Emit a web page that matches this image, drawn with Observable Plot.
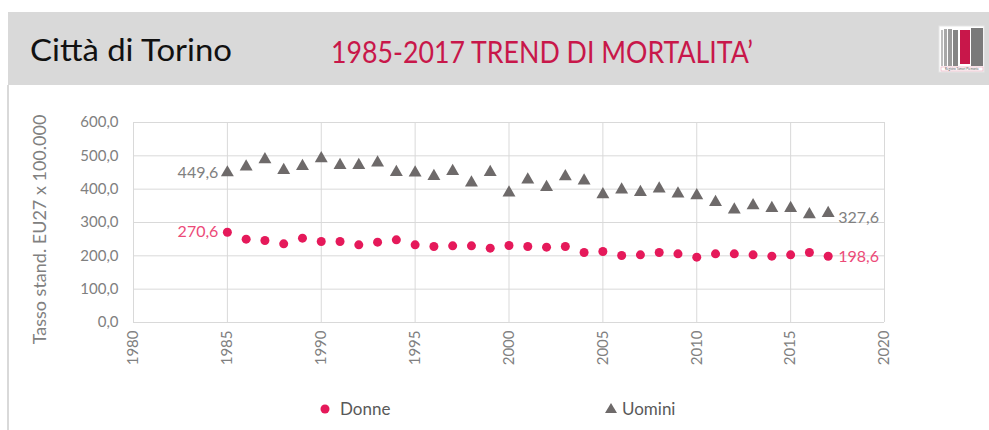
<!DOCTYPE html>
<html><head><meta charset="utf-8">
<script src="https://cdn.jsdelivr.net/npm/d3@7"></script>
<script src="https://cdn.jsdelivr.net/npm/@observablehq/plot@0.6"></script>
<style>
html,body{margin:0;padding:0;background:#fff;}
body{width:989px;height:430px;overflow:hidden;position:relative;font-family:Lato,"Open Sans",sans-serif;}
#header{position:absolute;left:0;top:0;}
#leftline{position:absolute;left:7px;top:85px;width:2px;height:345px;background:#d9d9d9;}
#chart{position:absolute;left:0;top:100px;}
#legend{position:absolute;left:0;top:392px;}
</style>
</head><body>
<svg id="header" width="989" height="90">
  <rect x="8" y="12" width="981" height="73" fill="#d9d9d9"/>
  <text x="30" y="61" font-family="Lato" font-size="30" fill="#111" textLength="202" lengthAdjust="spacingAndGlyphs">Città di Torino</text>
  <text x="331" y="63" font-family="Lato" font-size="30" fill="#c8174a" textLength="422" lengthAdjust="spacingAndGlyphs">1985-2017 TREND DI MORTALITA’</text>
  <g>
    <rect x="939" y="26" width="45" height="46" fill="#fff" stroke="#e6e6e6"/>
    <rect x="941" y="30" width="2" height="36" fill="#bdbdbd"/>
    <rect x="944" y="29" width="3" height="37" fill="#a8a8a8"/>
    <rect x="948" y="29" width="4" height="37" fill="#9a9a9a"/>
    <rect x="953" y="30" width="5" height="36" fill="#858585"/>
    <rect x="960" y="30" width="10" height="34" fill="#c8174a"/>
    <rect x="971" y="28" width="12" height="38" fill="#7a7a7a"/>
    <rect x="941" y="67" width="42" height="4" fill="#fff" stroke="#e8a0b4" stroke-width="0.6"/>
    <text x="962" y="70.3" font-size="3" text-anchor="middle" fill="#555" font-family="Lato">Registro Tumori Piemonte</text>
  </g>
</svg>
<div id="leftline"></div>
<div id="chart"></div>
<svg id="legend" width="989" height="38">
  <circle cx="325" cy="17" r="4.5" fill="#e5195a"/>
  <text x="340" y="23" font-family="Lato" font-size="17" fill="#595959">Donne</text>
  <path d="M611,11 L617,21 L605,21 Z" fill="#6e6a6a"/>
  <text x="622" y="23" font-family="Lato" font-size="17" fill="#595959">Uomini</text>
</svg>
<script>
const years = [1985,1986,1987,1988,1989,1990,1991,1992,1993,1994,1995,1996,1997,1998,1999,2000,2001,2002,2003,2004,2005,2006,2007,2008,2009,2010,2011,2012,2013,2014,2015,2016,2017];
const donne = [270.6,250,246,236,253,243,243,233,241,248,233,228,230,230,223,231,228,226,228,210,213,201,203,210,206,196,206,206,203,199,203,210,198.6];
const uomini = [449.6,467,489,457,469,492,472,472,479,451,449,439,454,419,451,389,428,406,438,425,384,398,391,401,386,381,361,338,351,343,343,324,327.6];
const xTicks = [1980,1985,1990,1995,2000,2005,2010,2015,2020];
const yTicks = [0,100,200,300,400,500,600];
const yLabel = "Tasso stand. EU27 x 100.000";

const data = years.map((y,i)=>({year:y, donne:donne[i], uomini:uomini[i]}));
const first = [data[0]], last = [data[data.length-1]];
const fmt = d => d.toFixed(1).replace(".", ",");
const tickColor = "#808080";

const chart = Plot.plot({
  width: 989, height: 290,
  marginLeft: 133, marginRight: 105, marginTop: 22, marginBottom: 68,
  style: {fontFamily: "Lato, 'Open Sans', sans-serif", fontSize: "14px", background: "transparent"},
  x: {domain: [1980, 2020]},
  y: {domain: [0, 600]},
  marks: [
    Plot.gridY(yTicks, {stroke: "#d9d9d9", strokeOpacity: 1}),
    Plot.gridX(xTicks, {stroke: "#d9d9d9", strokeOpacity: 1}),
    Plot.axisY(yTicks, {tickSize: 0, tickPadding: 15, tickFormat: fmt, fill: tickColor, fontSize: 15, label: null}),
    Plot.axisX(xTicks, {tickRotate: -90, tickSize: 0, tickPadding: 8, tickFormat: d => String(d), fill: tickColor, fontSize: 15, label: null}),
    Plot.text([yLabel], {frameAnchor: "left", rotate: -90, dx: -93, dy: 7, text: d => d, textAnchor: "middle", fill: tickColor, fontSize: 18}),
    Plot.dot(data, {x: "year", y: "uomini", symbol: "triangle", r: 4.8, fill: "#6e6a6a", stroke: "none"}),
    Plot.dot(data, {x: "year", y: "donne", symbol: "circle", r: 4.5, fill: "#e5195a", stroke: "none"}),
    Plot.text(first, {x: "year", y: "uomini", text: d => fmt(d.uomini), textAnchor: "end", dx: -9, fill: "#808080", fontSize: 16}),
    Plot.text(first, {x: "year", y: "donne", text: d => fmt(d.donne), textAnchor: "end", dx: -9, fill: "#ec4a78", fontSize: 16}),
    Plot.text(last, {x: "year", y: "uomini", text: d => fmt(d.uomini), textAnchor: "start", dx: 10, dy: 5, fill: "#808080", fontSize: 16}),
    Plot.text(last, {x: "year", y: "donne", text: d => fmt(d.donne), textAnchor: "start", dx: 10, dy: 1, fill: "#ec4a78", fontSize: 16})
  ]
});
document.getElementById("chart").appendChild(chart);
</script>
</body></html>
